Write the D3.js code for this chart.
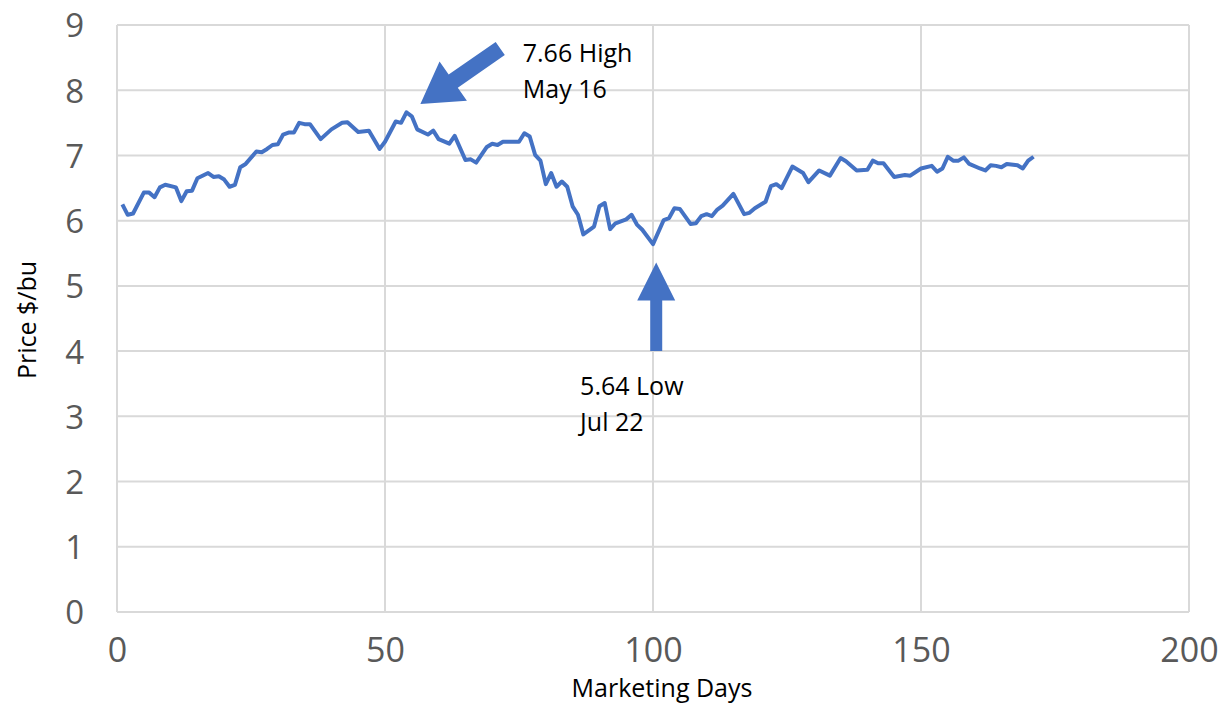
<!DOCTYPE html>
<html>
<head>
<meta charset="utf-8">
<script src="https://cdn.jsdelivr.net/npm/d3@7"></script>
<style>
  html, body { margin: 0; padding: 0; background: #fff; }
  svg { display: block; }
</style>
</head>
<body>
<svg id="chart" width="1230" height="703"></svg>
<script>
// Marketing day numbers and daily cash price ($/bu)
const days = [
  1, 2, 3, 5, 6, 7, 8, 9, 11, 12, 13, 14, 15, 17, 18, 19, 20, 21, 22, 23,
  24, 26, 27, 28, 29, 30, 31, 32, 33, 34, 35, 36, 38, 40, 42, 43, 45, 47, 49, 50,
  52, 53, 54, 55, 56, 58, 59, 60, 62, 63, 65, 66, 67, 69, 70, 71, 72, 75, 76, 77,
  78, 79, 80, 81, 82, 83, 84, 85, 86, 87, 89, 90, 91, 92, 93, 95, 96, 97, 98, 100,
  102, 103, 104, 105, 107, 108, 109, 110, 111, 112, 113, 115, 117, 118, 119, 121, 122, 123, 124, 126,
  128, 129, 131, 133, 135, 136, 138, 140, 141, 142, 143, 145, 147, 148, 150, 152, 153, 154, 155, 156,
  157, 158, 159, 161, 162, 163, 164, 165, 166, 168, 169, 170, 171
];
const prices = [
  6.25, 6.09, 6.11, 6.43, 6.43, 6.36, 6.51, 6.55, 6.51, 6.30, 6.45, 6.46, 6.65, 6.73, 6.67, 6.68, 6.63, 6.52, 6.55, 6.82,
  6.87, 7.06, 7.05, 7.10, 7.16, 7.17, 7.32, 7.35, 7.35, 7.50, 7.48, 7.48, 7.25, 7.40, 7.50, 7.51, 7.36, 7.38, 7.10, 7.21,
  7.52, 7.50, 7.66, 7.60, 7.40, 7.32, 7.38, 7.25, 7.18, 7.30, 6.93, 6.94, 6.89, 7.13, 7.18, 7.16, 7.21, 7.21, 7.34, 7.29,
  7.01, 6.92, 6.56, 6.73, 6.52, 6.60, 6.52, 6.22, 6.09, 5.79, 5.91, 6.22, 6.27, 5.87, 5.96, 6.02, 6.09, 5.94, 5.86, 5.64,
  6.01, 6.04, 6.19, 6.18, 5.95, 5.96, 6.07, 6.10, 6.07, 6.17, 6.23, 6.41, 6.10, 6.12, 6.19, 6.29, 6.53, 6.56, 6.50, 6.83,
  6.73, 6.59, 6.77, 6.69, 6.96, 6.91, 6.77, 6.78, 6.92, 6.88, 6.88, 6.67, 6.70, 6.69, 6.80, 6.84, 6.75, 6.80, 6.98, 6.92,
  6.92, 6.97, 6.87, 6.80, 6.77, 6.85, 6.84, 6.82, 6.87, 6.85, 6.80, 6.92, 6.98
];

// Axis ticks
const xTicks = [0, 50, 100, 150, 200];
const yTicks = [0, 1, 2, 3, 4, 5, 6, 7, 8, 9];

// Callout label lines
const highLabel = ["7.66 High", "May 16"];
const lowLabel = ["5.64 Low", "Jul 22"];

const svg = d3.select("#chart");
const plot = { left: 117, right: 1189, top: 25, bottom: 612 };

const x = d3.scaleLinear().domain([0, 200]).range([plot.left, plot.right]);
const y = d3.scaleLinear().domain([0, 9]).range([plot.bottom, plot.top]);

const gridColor = "#d9d9d9";
const textGray = "#595959";
const blue = "#4472C4";
const font = "Open Sans, sans-serif";

// Gridlines
const grid = svg.append("g");
grid.selectAll("line.h").data(yTicks).join("line")
  .attr("x1", plot.left).attr("x2", plot.right)
  .attr("y1", d => y(d)).attr("y2", d => y(d))
  .attr("stroke", gridColor).attr("stroke-width", 2);
grid.selectAll("line.v").data(xTicks).join("line")
  .attr("y1", plot.top).attr("y2", plot.bottom)
  .attr("x1", d => x(d)).attr("x2", d => x(d))
  .attr("stroke", gridColor).attr("stroke-width", 2);

// Axes (labels only; domain and tick marks hidden)
const yAxis = d3.axisLeft(y).tickValues(yTicks).tickSize(0).tickPadding(0).tickFormat(d3.format("d"));
svg.append("g").attr("transform", `translate(${plot.left - 33},0)`).call(yAxis)
  .call(g => g.select(".domain").remove())
  .call(g => g.selectAll("text")
    .attr("fill", textGray).attr("font-family", font).attr("font-size", 33)
    .attr("dy", "0.36em"));

const xAxis = d3.axisBottom(x).tickValues(xTicks).tickSize(0).tickPadding(0).tickFormat(d3.format("d"));
svg.append("g").attr("transform", `translate(0,${plot.bottom + 38})`).call(xAxis)
  .call(g => g.select(".domain").remove())
  .call(g => g.selectAll("text")
    .attr("fill", textGray).attr("font-family", font).attr("font-size", 34)
    .attr("dy", "0.36em"));

// Axis titles
svg.append("text")
  .attr("x", 662).attr("y", 697)
  .attr("text-anchor", "middle")
  .attr("font-family", font).attr("font-size", 25)
  .attr("fill", "#000").text("Marketing Days");

svg.append("text")
  .attr("transform", `translate(36,320) rotate(-90)`)
  .attr("text-anchor", "middle")
  .attr("font-family", font).attr("font-size", 25)
  .attr("fill", "#000").text("Price $/bu");

// Price line
const pts = days.map((d, i) => [d, prices[i]]);
svg.append("path")
  .datum(pts)
  .attr("fill", "none")
  .attr("stroke", blue)
  .attr("stroke-width", 4)
  .attr("stroke-linejoin", "round")
  .attr("d", d3.line().x(d => x(d[0])).y(d => y(d[1])));

// Block arrow from tail to tip, both given in data units
function blockArrow(tail, tip, shaftW, headW, headL) {
  const x0 = x(tail[0]), y0 = y(tail[1]);
  const x1 = x(tip[0]), y1 = y(tip[1]);
  const dx = x1 - x0, dy = y1 - y0;
  const len = Math.hypot(dx, dy);
  const ux = dx / len, uy = dy / len;
  const nx = -uy, ny = ux;
  const bx = x1 - ux * headL, by = y1 - uy * headL;
  const p = [
    [x0 + nx * shaftW / 2, y0 + ny * shaftW / 2],
    [bx + nx * shaftW / 2, by + ny * shaftW / 2],
    [bx + nx * headW / 2, by + ny * headW / 2],
    [x1, y1],
    [bx - nx * headW / 2, by - ny * headW / 2],
    [bx - nx * shaftW / 2, by - ny * shaftW / 2],
    [x0 - nx * shaftW / 2, y0 - ny * shaftW / 2]
  ];
  svg.append("path")
    .attr("d", "M" + p.map(q => q.join(",")).join("L") + "Z")
    .attr("fill", blue);
}

blockArrow([71.5, 8.64], [56.6, 7.79], 16, 48, 40);
blockArrow([100.6, 4.0], [100.6, 5.36], 12, 38, 38);

// Callout labels
function label(lines, day, val) {
  const t = svg.append("text")
    .attr("font-family", font).attr("font-size", 25)
    .attr("fill", "#000");
  lines.forEach((s, i) => {
    t.append("tspan").attr("x", x(day)).attr("y", y(val) + i * 36).text(s);
  });
}
label(highLabel, 75.7, 8.44);
label(lowLabel, 86.4, 3.33);
</script>
</body>
</html>
